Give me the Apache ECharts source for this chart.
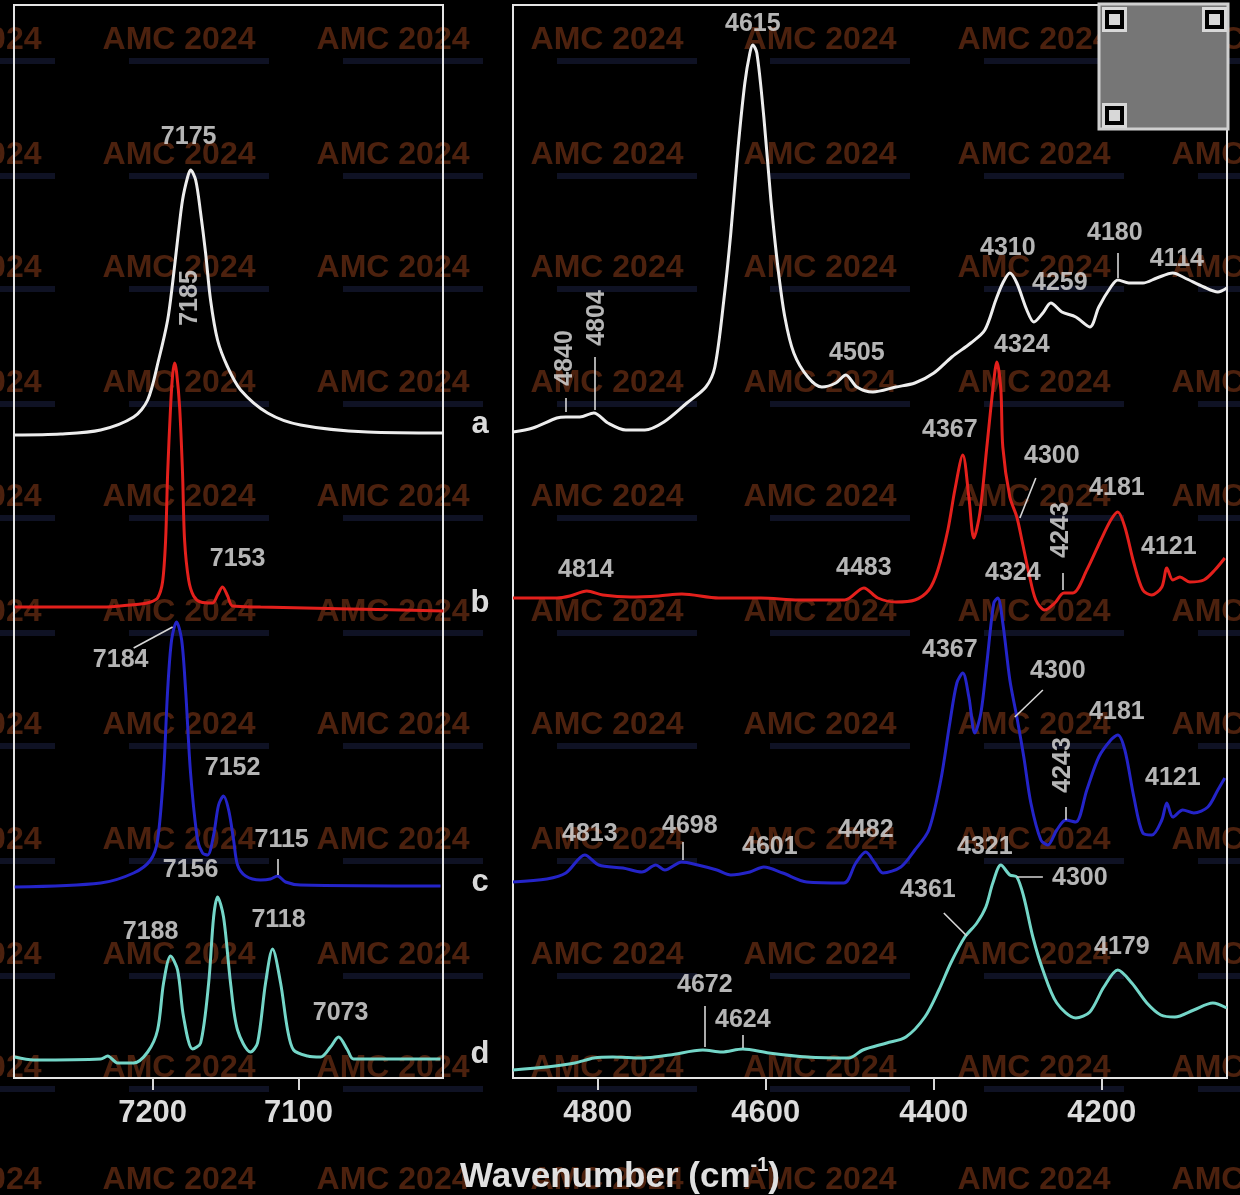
<!DOCTYPE html>
<html>
<head>
<meta charset="utf-8">
<title>NIR spectra</title>
<script src="https://cdn.jsdelivr.net/npm/echarts@6/dist/echarts.min.js"></script>
<style>html,body{margin:0;padding:0;background:#000;}</style>
</head>
<body>
<div id="main" style="width:1240px;height:1195px;"></div>
<script type="text/javascript">
// left panel (7000 - 7295 cm-1), values are intensity in arbitrary units
var leftA = [[7294.5,643],[7263,644],[7235.6,648],[7213,661],[7203.4,678],[7195.9,718],[7189.7,758],[7186.3,795],[7182.9,838],[7179.5,878],[7176,901],[7174,908],[7170.5,898],[7167.1,865],[7163.7,825],[7160.3,778],[7155.5,738],[7148.6,711],[7139.7,688],[7121.2,665],[7098.6,653],[7052.7,646],[7000.7,645]];
var leftB = [[7294.5,471],[7235.6,471],[7208.2,474],[7201.4,476],[7196.6,480],[7193.2,496],[7191.1,538],[7189.7,605],[7187.7,671],[7186.3,703],[7184.9,715],[7183.6,706],[7181.5,671],[7179.5,605],[7178.1,538],[7175.3,498],[7171.9,482],[7167.1,476],[7158.9,475],[7155.5,483],[7152.1,491],[7148.6,482],[7145.2,472],[7126,471],[7064.4,469],[7000.7,467]];
var leftC = [[7294.5,191],[7235.6,195],[7213,205],[7201.4,218],[7196.6,238],[7192.5,305],[7189.7,388],[7187,438],[7183.6,456],[7180.1,438],[7177.4,388],[7174,305],[7169.2,238],[7165.8,225],[7162.3,223],[7158.2,243],[7154.8,273],[7151.4,282],[7147.9,268],[7144.5,238],[7141.8,213],[7136.3,202],[7126,198],[7119.2,199],[7114.4,202],[7108.9,196],[7098.6,193],[7002.7,192]];
var leftD = [[7294.5,21],[7281.5,18],[7235.6,19],[7230.8,22],[7224,15],[7213,15],[7203.4,26],[7196.6,48],[7192.5,95],[7187.7,122],[7182.9,108],[7178.8,61],[7172.6,29],[7167.1,35],[7161.6,95],[7158.2,161],[7155.5,181],[7151.4,161],[7146.6,95],[7141.8,48],[7132.9,26],[7128.1,35],[7122.6,95],[7117.8,129],[7112.3,95],[7107.5,48],[7103.4,28],[7093.8,22],[7084.9,21],[7078.1,31],[7072.6,41],[7066.4,28],[7062.3,19],[7002.7,19]];

// right panel (4050 - 4900 cm-1)
var rightA = [[4901.2,646],[4877.4,650],[4848.8,660],[4838.1,661],[4821.4,661],[4804.8,665],[4788.1,655],[4766.7,648],[4744,648],[4721.4,656],[4694,675],[4671.4,691],[4660.7,711],[4650,778],[4641.7,845],[4633.3,928],[4625,995],[4619,1025],[4615.5,1033],[4610.7,1025],[4602.4,961],[4594,878],[4585.7,811],[4577.4,761],[4566.7,725],[4550,701],[4533.3,691],[4516.7,695],[4504.8,703],[4491.7,691],[4472.6,686],[4445.2,691],[4422.6,695],[4400,705],[4378.6,721],[4356,735],[4339.3,748],[4326.2,778],[4317.9,795],[4309.5,805],[4301.2,795],[4289.3,768],[4281,756],[4270.2,765],[4260.7,775],[4247.6,766],[4231,761],[4214.3,751],[4203.6,771],[4189.3,791],[4181,798],[4167.9,795],[4151.2,795],[4134.5,800],[4115.5,805],[4101.2,800],[4078.6,791],[4061.9,786],[4051.2,790]];
var rightB = [[4901,480],[4848.8,480],[4833.3,482],[4813.1,487],[4794,483],[4760.7,481],[4727.4,482],[4700,484],[4656,480],[4606,480],[4560.7,478],[4506,478],[4483.3,490],[4466.7,480],[4445.2,476],[4422.6,478],[4406,488],[4395.2,508],[4383.3,548],[4375,588],[4365.5,623],[4358.3,581],[4352.4,540],[4345.2,565],[4336.9,631],[4329.8,688],[4325,716],[4320.2,688],[4317.9,631],[4309.5,581],[4301.2,561],[4295.2,538],[4286.9,505],[4278.6,478],[4267.9,468],[4256,475],[4245.2,485],[4234.5,485],[4217.9,508],[4201.2,538],[4189.3,558],[4181,566],[4172.6,551],[4161.9,515],[4151.2,488],[4140.5,483],[4128.6,491],[4122.6,510],[4115.5,498],[4107.1,501],[4095.2,496],[4078.6,498],[4065.5,508],[4053.6,520]];
var rightC = [[4901,196],[4860.7,199],[4838.1,205],[4815.5,223],[4798.8,213],[4770.2,210],[4747.6,206],[4731,213],[4720.2,208],[4700,216],[4681,213],[4658.3,208],[4641.7,203],[4619,206],[4602.4,211],[4579.8,205],[4551.2,196],[4507.1,195],[4492.9,215],[4481,226],[4470.2,215],[4460.7,205],[4439.3,211],[4422.6,228],[4406,248],[4391.7,298],[4381,355],[4372.6,395],[4365.5,405],[4358.3,381],[4351.2,345],[4344,365],[4336.9,415],[4328.6,475],[4323.8,480],[4317.9,455],[4309.5,398],[4301.2,361],[4292.9,321],[4284.5,275],[4272.6,238],[4264.3,233],[4253.6,248],[4242.9,258],[4231,256],[4217.9,288],[4203.6,321],[4189.3,338],[4181,343],[4172.6,328],[4161.9,281],[4151.2,245],[4140.5,243],[4128.6,258],[4122.6,275],[4115.5,261],[4103.6,268],[4090.5,265],[4073.8,271],[4061.9,288],[4053.6,300]];
var rightD = [[4901,8],[4860.7,11],[4827.4,15],[4804.8,20],[4782.1,21],[4747.6,20],[4714.3,23],[4675,28],[4652.4,26],[4627.4,29],[4596.4,25],[4551.2,21],[4501.2,20],[4484.5,28],[4456,35],[4433.3,41],[4410.7,61],[4394,88],[4379.8,115],[4363.1,141],[4348.8,155],[4338.1,171],[4329.8,195],[4320.2,213],[4309.5,203],[4301.2,201],[4292.9,181],[4282.1,141],[4270.2,108],[4253.6,75],[4231,60],[4214.3,66],[4197.6,91],[4181,108],[4164.3,95],[4146.4,75],[4129.8,63],[4113.1,61],[4090.5,68],[4067.9,75],[4051.2,70]];

// tick labels
var leftTicks = [7100, 7200];
var rightTicks = [4200, 4400, 4600, 4800];

// peak annotations: [wavenumber, height, text, rotation]
var leftPeakLabels = [
    [7175.3,941,'7175',0],[7174,780,'7185',90],[7141.8,519,'7153',0],[7221.9,418,'7184',0],
    [7145.2,310,'7152',0],[7111.6,238,'7115',0],[7174,208,'7156',0],[7201.4,146,'7188',0],
    [7113.7,158,'7118',0],[7071.2,65,'7073',0]
];
var rightPeakLabels = [
    [4615.5,1054,'4615',0],[4839.3,720,'4840',90],[4801.2,760,'4804',90],[4491.7,725,'4505',0],
    [4311.9,830,'4310',0],[4250,795,'4259',0],[4184.5,845,'4180',0],[4110.7,819,'4114',0],
    [4295.2,733,'4324',0],[4381,648,'4367',0],[4259.5,622,'4300',0],[4182.1,590,'4181',0],
    [4248.8,548,'4243',90],[4120.2,531,'4121',0],[4814.3,508,'4814',0],[4483.3,510,'4483',0],
    [4306,505,'4324',0],[4381,428,'4367',0],[4252.4,407,'4300',0],[4182.1,366,'4181',0],
    [4246.4,313,'4243',90],[4115.5,300,'4121',0],[4809.5,244,'4813',0],[4690.5,252,'4698',0],
    [4595.2,231,'4601',0],[4481,248,'4482',0],[4339.3,231,'4321',0],[4226.2,200,'4300',0],
    [4407.1,188,'4361',0],[4176.2,131,'4179',0],[4672.6,93,'4672',0],[4627.4,58,'4624',0]
];
// leader lines from labels to the peaks
var leftLeaders = [
    [[7213,430],[7186.3,451]],
    [[7114.4,219],[7114.4,203]]
];
var rightLeaders = [
    [[4838.1,680],[4838.1,666]],
    [[4803.6,721],[4803.6,668]],
    [[4181,825],[4181,800]],
    [[4278.6,600],[4297.6,560]],
    [[4246.4,505],[4246.4,488]],
    [[4270.2,388],[4303.6,361]],
    [[4242.9,271],[4242.9,258]],
    [[4698.8,236],[4698.8,218]],
    [[4301.2,201],[4270.2,201]],
    [[4388.1,165],[4360.7,142]],
    [[4672.6,72],[4672.6,31]],
    [[4627.4,43],[4627.4,30]]
];

var traceNames = ['a', 'b', 'c', 'd'];
var traceColors = ['#ededed', '#e3201c', '#2424c8', '#74d6c8'];
var letterY = [424, 603, 882, 1054];

var FONT = 'Liberation Sans, Arial, sans-serif';
var textColor = '#e2e2e2';

function peakLabelSeries(list, idx) {
    return {
        type: 'scatter',
        xAxisIndex: idx, yAxisIndex: idx,
        symbolSize: 0,
        silent: true,
        z: 5,
        data: list.map(function (p) {
            return {
                value: [p[0], p[1]],
                label: { show: true, position: 'inside', formatter: p[2], rotate: p[3] }
            };
        }),
        label: { color: textColor, fontSize: 25, fontWeight: 'bold', fontFamily: FONT }
    };
}

function leaderSeries(list, idx) {
    return {
        type: 'lines',
        coordinateSystem: 'cartesian2d',
        xAxisIndex: idx, yAxisIndex: idx,
        silent: true,
        z: 4,
        lineStyle: { color: '#d6d6d6', width: 1.6, opacity: 1 },
        data: list.map(function (c) { return { coords: c }; })
    };
}

function traceSeries(data, idx, k) {
    return {
        name: traceNames[k] + (idx ? '-right' : '-left'),
        type: 'line',
        xAxisIndex: idx, yAxisIndex: idx,
        data: data,
        showSymbol: false,
        smooth: 0.3,
        z: 3,
        lineStyle: { color: traceColors[k], width: 3 }
    };
}

// watermark tiles and qr stand-in
var graphics = [];
var wmCols = [-35, 179, 393, 607, 820, 1034, 1248];
var wmRows = [40, 155, 268, 383, 497, 612, 725, 840, 955, 1068, 1180];
wmRows.forEach(function (y) {
    wmCols.forEach(function (x) {
        graphics.push({ type: 'rect', silent: true, z: -2, shape: { x: x - 50, y: y + 18, width: 140, height: 6 },
            style: { fill: '#0f1224' } });
        graphics.push({ type: 'text', silent: true, z: -1, x: x, y: y,
            style: { text: 'AMC 2024', font: 'bold 32px ' + FONT, fill: '#4c210e', textAlign: 'center', textVerticalAlign: 'middle' } });
    });
});
graphics.push({ type: 'rect', silent: true, z: 10, shape: { x: 1099, y: 4, width: 129, height: 125 },
    style: { fill: '#767676', stroke: '#cfcfcf', lineWidth: 3 } });
[[1102, 7], [1202, 7], [1102, 103]].forEach(function (f) {
    graphics.push({ type: 'rect', silent: true, z: 11, shape: { x: f[0], y: f[1], width: 25, height: 25 }, style: { fill: '#d8d8d8' } });
    graphics.push({ type: 'rect', silent: true, z: 12, shape: { x: f[0] + 3, y: f[1] + 3, width: 19, height: 19 }, style: { fill: '#000' } });
    graphics.push({ type: 'rect', silent: true, z: 13, shape: { x: f[0] + 7, y: f[1] + 7, width: 11, height: 11 }, style: { fill: '#d8d8d8' } });
});
traceNames.forEach(function (n, i) {
    graphics.push({ type: 'text', silent: true, z: 20, x: 480, y: letterY[i],
        style: { text: n, font: 'bold 31px ' + FONT, fill: '#dadada', textAlign: 'center', textVerticalAlign: 'middle' } });
});

function xAxisFor(idx, min, max, ticks) {
    return {
        gridIndex: idx,
        type: 'value',
        inverse: true,
        min: min, max: max,
        axisLine: { show: false },
        splitLine: { show: false },
        axisTick: { show: true, customValues: ticks, length: 12, lineStyle: { color: '#d8d8d8', width: 2 } },
        axisLabel: {
            customValues: ticks, color: '#dcdcdc', fontSize: 31, fontWeight: 'bold', fontFamily: FONT, margin: 20,
            formatter: function (value) { return String(value); }
        }
    };
}

var myChart = echarts.init(document.getElementById('main'));
var option = {
    backgroundColor: '#000',
    animation: false,
    title: {
        text: 'Wavenumber (cm{sup|-1})',
        left: 'center',
        top: 1150,
        textStyle: {
            color: '#e0e0e0', fontSize: 35, fontWeight: 'bold', fontFamily: FONT,
            rich: { sup: { color: '#e0e0e0', fontSize: 20, fontWeight: 'bold', fontFamily: FONT, padding: [0, 0, 25, 0] } }
        }
    },
    grid: [
        { left: 14, top: 5, width: 429, height: 1073, show: true, borderColor: '#e4e4e4', borderWidth: 2, backgroundColor: 'transparent' },
        { left: 513, top: 5, width: 714, height: 1073, show: true, borderColor: '#e4e4e4', borderWidth: 2, backgroundColor: 'transparent' }
    ],
    xAxis: [
        xAxisFor(0, 7001, 7295, leftTicks),
        xAxisFor(1, 4051, 4901, rightTicks)
    ],
    yAxis: [
        { gridIndex: 0, type: 'value', min: 0, max: 1073, show: false },
        { gridIndex: 1, type: 'value', min: 0, max: 1073, show: false }
    ],
    graphic: graphics,
    series: [
        traceSeries(leftA, 0, 0), traceSeries(leftB, 0, 1), traceSeries(leftC, 0, 2), traceSeries(leftD, 0, 3),
        traceSeries(rightA, 1, 0), traceSeries(rightB, 1, 1), traceSeries(rightC, 1, 2), traceSeries(rightD, 1, 3),
        leaderSeries(leftLeaders, 0), leaderSeries(rightLeaders, 1),
        peakLabelSeries(leftPeakLabels, 0), peakLabelSeries(rightPeakLabels, 1)
    ]
};
myChart.setOption(option);
</script>
</body>
</html>
